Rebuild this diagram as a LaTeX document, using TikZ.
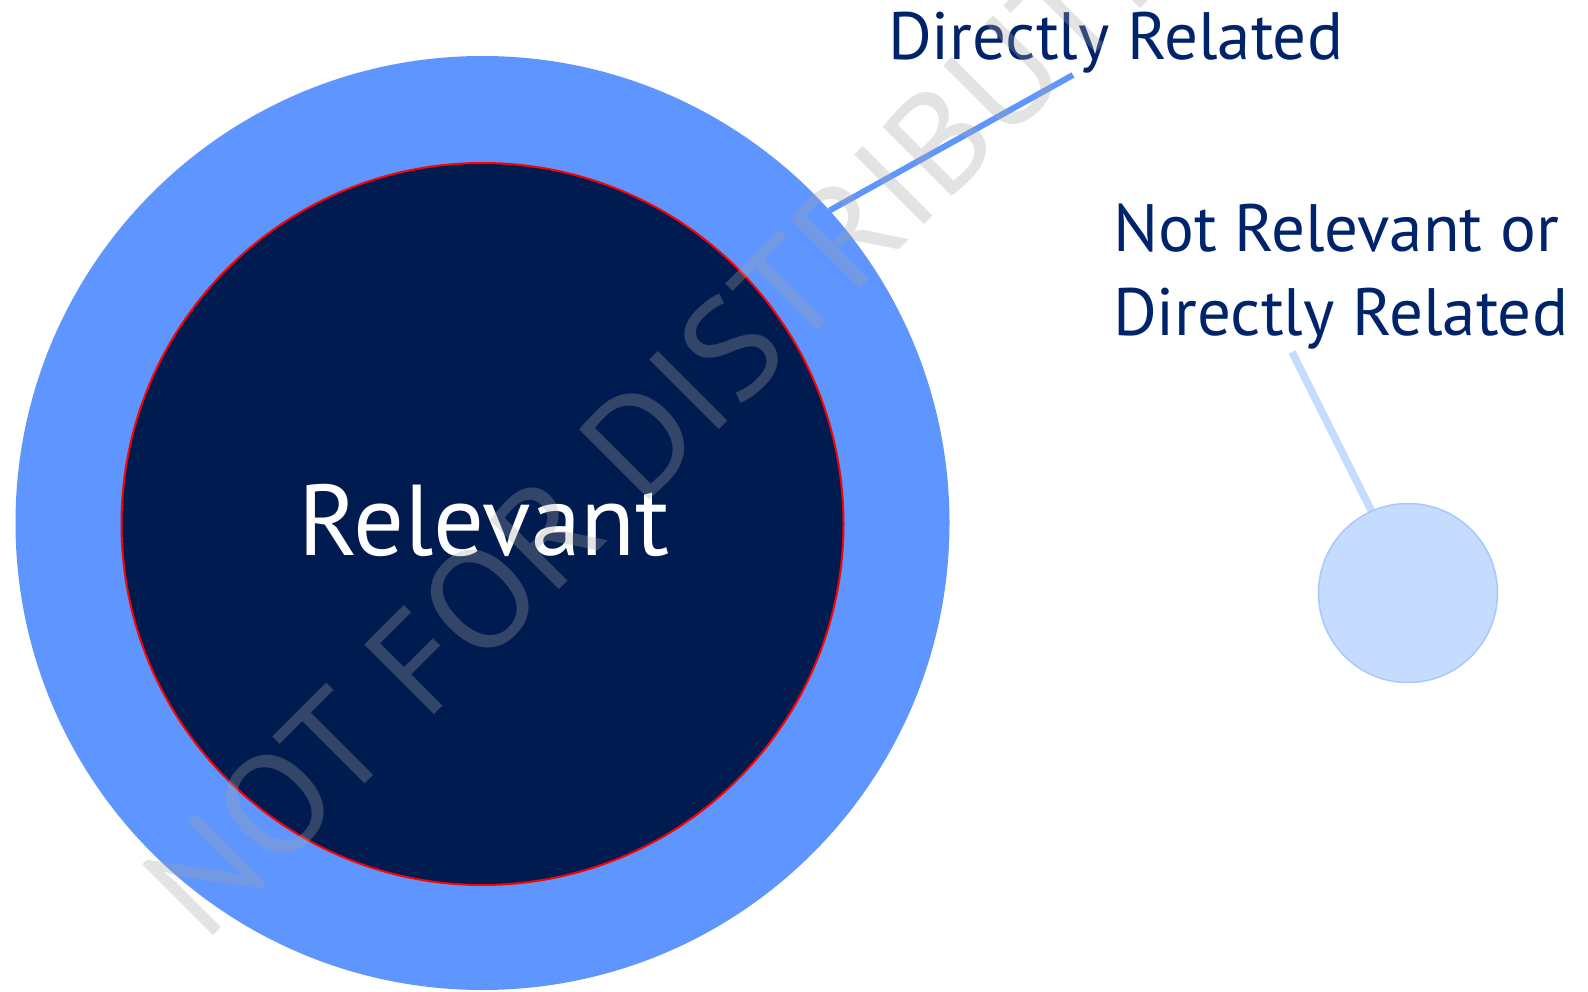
\documentclass[tikz,border=0pt]{standalone}
\usepackage{fontspec}
\setmainfont{PT Sans}
\definecolor{outerblue}{HTML}{5E95FF}
\definecolor{navyfill}{HTML}{001B4F}
\definecolor{labnavy}{HTML}{00246B}
\definecolor{smallfill}{HTML}{C6DCFF}
\definecolor{smallborder}{HTML}{A9C8FF}
\definecolor{wmgray}{HTML}{A5A5A5}
\newlength\mylen
\begin{document}%
\settowidth\mylen{\normalfont\fontsize{100pt}{100pt}\selectfont Directly Related}%
\pgfmathsetmacro\szA{455/\mylen*100}%
\settowidth\mylen{\normalfont\fontsize{100pt}{100pt}\selectfont Relevant}%
\pgfmathsetmacro\szC{372/\mylen*100}%
\pgfmathsetmacro\szW{2.1*\szA}%
\begin{tikzpicture}[x=1pt,y=-1pt,
  lab/.style={anchor=base west, inner sep=0pt, outer sep=0pt, text=labnavy},
  disc/.style={circle, inner sep=0pt, outer sep=0pt},
  lead/.style={line cap=butt}]
\fill[white] (0,0) rectangle (1588,992);
\useasboundingbox (0,0) rectangle (1588,992);
% circles
\node[disc, fill=outerblue, minimum size=934pt] (outer) at (482.5,523) {};
\node[disc, fill=navyfill, draw=red, line width=2pt, minimum size=722pt] (inner) at (482.5,524) {};
\coordinate (c2) at (1292,352);
\node[disc, minimum size=179pt] (small) at (1408,593) {};
\draw[lead, smallfill, line width=7.5pt] (small.114) -- (c2);
\node[disc, fill=smallfill, draw=smallborder, line width=1.5pt, minimum size=179pt] (smallc) at (1408,593) {};
\coordinate (c1) at (1073,75);
\draw[lead, outerblue, line width=6pt] (outer.42.4) -- (c1);
% labels
\node[lab] (dr) at (888,60) {\fontsize{\szA pt}{\szA pt}\selectfont Directly Related};
\node[lab] (nr1) at (1113,252) {\fontsize{\szA pt}{\szA pt}\selectfont Not Relevant or};
\node[lab] (nr2) at (1113,336) {\fontsize{\szA pt}{\szA pt}\selectfont Directly Related};
\node[anchor=base, inner sep=0pt, text=white] (rel) at (484,555) {\fontsize{\szC pt}{\szC pt}\selectfont Relevant};
% watermark
\node[anchor=base west, inner sep=0pt, rotate=45, xscale=1.045, text=wmgray, text opacity=0.31] (wm) at (204,945) {\fontsize{\szW pt}{\szW pt}\selectfont NOT FOR DISTRIBUTION};
\end{tikzpicture}
\end{document}
